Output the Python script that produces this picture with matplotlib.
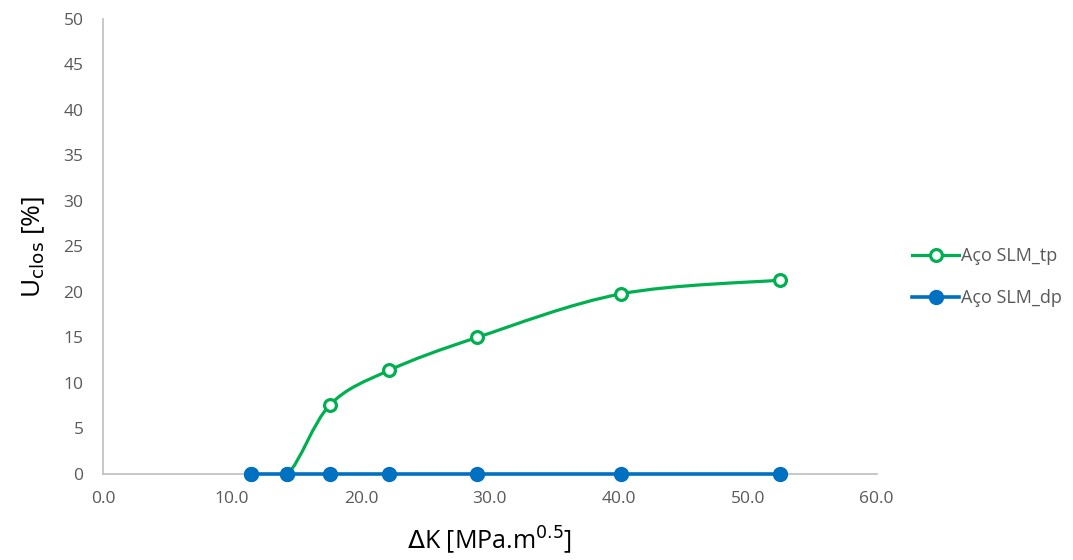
import numpy as np
import matplotlib.pyplot as plt
from matplotlib.path import Path
from matplotlib.patches import PathPatch
from matplotlib.lines import Line2D

# data
dk = [11.5, 14.3, 17.6, 22.2, 29.0, 40.2, 52.5]
u_tp = [0.0, 0.0, 7.6, 11.4, 15.0, 19.8, 21.3]
u_dp = [0.0, 0.0, 0.0, 0.0, 0.0, 0.0, 0.0]

x_ticks = [0, 10, 20, 30, 40, 50, 60]
y_ticks = list(range(0, 55, 5))

green = "#00B050"
blue = "#0070C0"
grey_txt = "#595959"

plt.rcParams['font.family'] = ['Open Sans', 'DejaVu Sans']

fig = plt.figure(figsize=(10.73, 5.6), dpi=100)
ax = fig.add_axes([0.096, 0.1536, 0.721, 0.8125])


# smoothed line like a spreadsheet "smoothed line" (Catmull-Rom as Bezier)
def smooth_path(xs, ys):
    pts = np.column_stack([xs, ys])
    n = len(pts)
    verts = [pts[0]]
    codes = [Path.MOVETO]
    for i in range(n - 1):
        p0 = pts[max(i - 1, 0)]
        p1 = pts[i]
        p2 = pts[i + 1]
        p3 = pts[min(i + 2, n - 1)]
        c1 = p1 + (p2 - p0) / 6.0
        c2 = p2 - (p3 - p1) / 6.0
        verts += [c1, c2, p2]
        codes += [Path.CURVE4] * 3
    return Path(verts, codes)


ax.add_patch(PathPatch(smooth_path(dk, u_tp), facecolor="none", edgecolor=green,
                       lw=2.3, zorder=2, capstyle="round"))
ax.plot(dk, u_tp, ls="none", marker="o", ms=8.5, mfc="white", mec=green, mew=2.3,
        zorder=3, clip_on=False)
ax.plot(dk, u_dp, color=blue, lw=2.6, marker="o", ms=10, mfc=blue, mec=blue,
        zorder=4, clip_on=False)

ax.set_xlim(0, 60)
ax.set_ylim(0, 50)
ax.set_xticks(x_ticks)
ax.set_xticklabels([f"{v:.1f}" for v in x_ticks])
ax.set_yticks(y_ticks)
ax.tick_params(length=0, labelsize=12.5, colors=grey_txt, pad=12)
ax.tick_params(axis="y", pad=14)

for s in ["top", "right"]:
    ax.spines[s].set_visible(False)
for s in ["left", "bottom"]:
    ax.spines[s].set_color("#BFBFBF")
    ax.spines[s].set_linewidth(1.2)
ax.spines["bottom"].set_zorder(1)

ax.set_xlabel(r"$\Delta$K [MPa.m$^{0.5}$]", fontsize=18, labelpad=13)
ax.set_ylabel(r"U$_{\mathrm{clos}}$ [%]", fontsize=19, labelpad=12)

handles = [
    Line2D([], [], color=green, lw=2.3, marker="o", ms=8.5, mfc="white", mec=green, mew=2.3),
    Line2D([], [], color=blue, lw=2.6, marker="o", ms=10, mfc=blue, mec=blue),
]
fig.legend(handles, ["Aço SLM_tp", "Aço SLM_dp"], loc="center left",
           bbox_to_anchor=(0.835, 0.505), frameon=False, fontsize=13,
           labelcolor=grey_txt, handlelength=2.6, handletextpad=0.1, labelspacing=1.3)

plt.savefig("out.png", dpi=100)
